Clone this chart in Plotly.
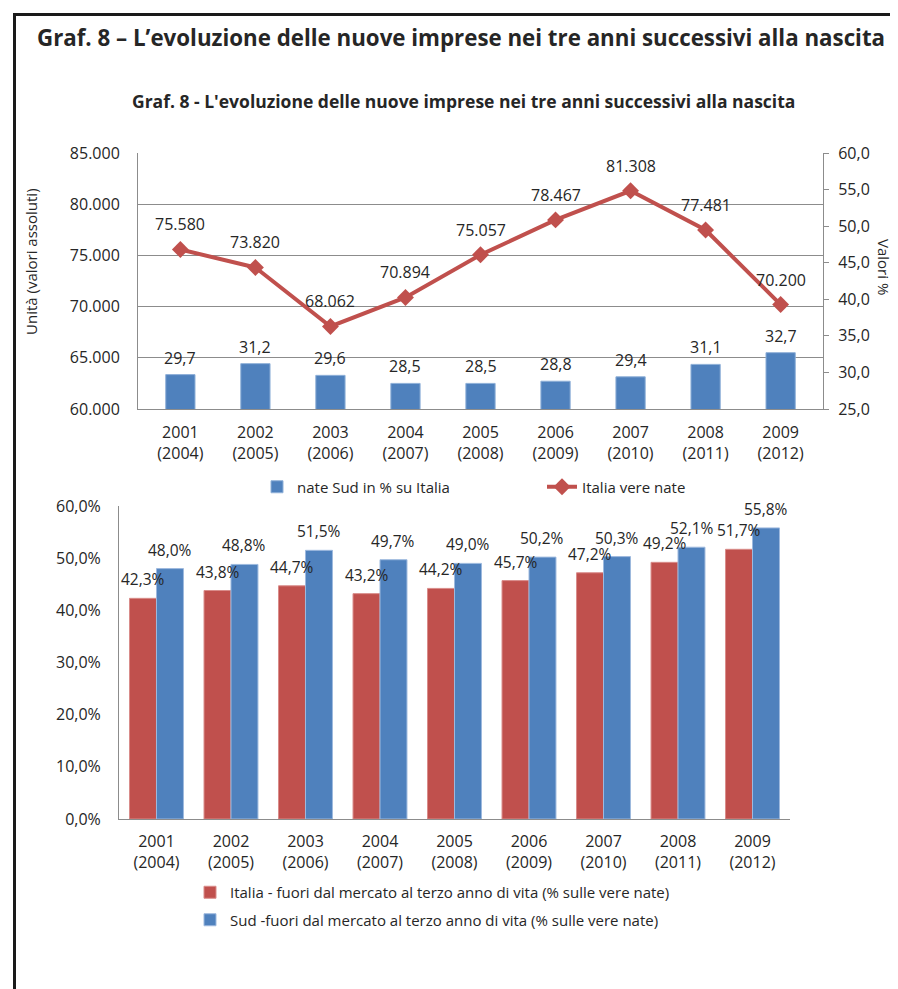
import plotly.graph_objects as go

# ---------------- data ----------------
categories = ["2001<br>(2004)", "2002<br>(2005)", "2003<br>(2006)", "2004<br>(2007)",
              "2005<br>(2008)", "2006<br>(2009)", "2007<br>(2010)", "2008<br>(2011)",
              "2009<br>(2012)"]
italia_vere_nate = [75580, 73820, 68062, 70894, 75057, 78467, 81308, 77481, 70200]
nate_sud_pct = [29.7, 31.2, 29.6, 28.5, 28.5, 28.8, 29.4, 31.1, 32.7]
italia_fuori_pct = [42.3, 43.8, 44.7, 43.2, 44.2, 45.7, 47.2, 49.2, 51.7]
sud_fuori_pct = [48.0, 48.8, 51.5, 49.7, 49.0, 50.2, 50.3, 52.1, 55.8]

name_bar_top = "nate Sud in % su Italia"
name_line_top = "Italia vere nate"
name_it = "Italia - fuori dal mercato al terzo anno di vita (% sulle vere nate)"
name_sud = "Sud -fuori dal mercato al terzo anno di vita (% sulle vere nate)"

# ---------------- style ----------------
OFF = 8                      # page body margin
W, H = 898 - OFF, 989 - OFF
FONT = "Open Sans"
TXT = "#262626"
BLUE = "#4F81BD"
RED = "#C0504D"
AXC = "#8c8c8c"
BARGAP = 0.276


def fx(p):
    return (p - OFF) / W


def fy(p):
    return 1 - (p - OFF) / H


def it_num(v, dec):
    s = f"{v:,.{dec}f}"
    return s.replace(",", "X").replace(".", ",").replace("X", ".")


fig = go.Figure()

# top chart
fig.add_trace(go.Bar(x=categories, y=nate_sud_pct, name=name_bar_top, xaxis="x", yaxis="y2",
                     marker=dict(color=BLUE, line=dict(color="#8fb0d8", width=1)), width=0.39,
                     legend="legend"))
fig.add_trace(go.Scatter(x=categories, y=italia_vere_nate, name=name_line_top, xaxis="x", yaxis="y",
                         mode="lines+markers", line=dict(color=RED, width=4),
                         marker=dict(symbol="diamond", size=13, color=RED), legend="legend"))

# bottom chart
fig.add_trace(go.Bar(x=categories, y=italia_fuori_pct, name=name_it, xaxis="x2", yaxis="y3",
                     marker=dict(color=RED, line=dict(color="#d98c8a", width=1)), legend="legend2",
                     legendgroup="a"))
fig.add_trace(go.Bar(x=categories, y=sud_fuori_pct, name=name_sud, xaxis="x2", yaxis="y3",
                     marker=dict(color=BLUE, line=dict(color="#9db9de", width=1)), legend="legend2",
                     legendgroup="b"))

lab_font = dict(size=16, color=TXT, family=FONT)
lab_font_b = dict(size=15.5, color=TXT, family=FONT)
annotations = []
for c, v in zip(categories, italia_vere_nate):
    annotations.append(dict(x=c, y=v, xref="x", yref="y", text=it_num(v, 0), showarrow=False,
                            yanchor="middle", yshift=25, font=lab_font))
for c, v in zip(categories, nate_sud_pct):
    annotations.append(dict(x=c, y=v, xref="x", yref="y2", text=it_num(v, 1), showarrow=False,
                            yanchor="middle", yshift=17, font=lab_font))
off = (1 - BARGAP) / 4
for i, (a, b) in enumerate(zip(italia_fuori_pct, sud_fuori_pct)):
    annotations.append(dict(x=i - off, y=a, xref="x2", yref="y3", text=it_num(a, 1) + "%",
                            showarrow=False, yanchor="middle", yshift=19, font=lab_font_b))
    annotations.append(dict(x=i + off, y=b, xref="x2", yref="y3", text=it_num(b, 1) + "%",
                            showarrow=False, yanchor="middle", yshift=19, font=lab_font_b))

annotations.append(dict(x=fx(35), y=fy(38), xref="paper", yref="paper", xanchor="left",
                        yanchor="middle", showarrow=False,
                        text="<b>Graf. 8 – L’evoluzione delle nuove imprese nei tre anni successivi alla nascita</b>",
                        font=dict(size=22.3, color=TXT, family=FONT)))
annotations.append(dict(x=fx(464), y=fy(101), xref="paper", yref="paper", xanchor="center",
                        yanchor="middle", showarrow=False,
                        text="<b>Graf. 8 - L'evoluzione delle nuove imprese nei tre anni successivi alla nascita</b>",
                        font=dict(size=17.5, color=TXT, family=FONT)))
annotations.append(dict(x=fx(31), y=fy(262), xref="paper", yref="paper", xanchor="center",
                        yanchor="middle", showarrow=False, textangle=-90,
                        text="Unità (valori assoluti)", font=dict(size=15, color=TXT, family=FONT)))
annotations.append(dict(x=fx(884), y=fy(267), xref="paper", yref="paper", xanchor="center",
                        yanchor="middle", showarrow=False, textangle=90,
                        text="Valori %", font=dict(size=15, color=TXT, family=FONT)))

tickfont = dict(size=16, color=TXT, family=FONT)

fig.update_layout(
    width=W, height=H,
    margin=dict(l=0, r=0, t=0, b=0, autoexpand=False),
    paper_bgcolor="white", plot_bgcolor="white",
    separators=",.",
    font=dict(family=FONT, color=TXT, size=15),
    bargap=BARGAP, bargroupgap=0, barmode="group",
    xaxis=dict(domain=[fx(138), fx(823)], anchor="y", type="category", automargin=False,
               showline=True, linecolor=AXC, linewidth=1, ticks="", tickfont=tickfont,
               ticklabelstandoff=9),
    yaxis=dict(domain=[fy(409), fy(153)], anchor="x", side="left", range=[60000, 85000],
               dtick=5000, tickformat=",d", showgrid=True, gridcolor=AXC, gridwidth=1,
               showline=True, linecolor=AXC, linewidth=1, ticks="", tickfont=tickfont,
               ticklabelstandoff=14, zeroline=False, automargin=False),
    yaxis2=dict(overlaying="y", side="right", anchor="x", range=[25, 60], dtick=5,
                tickformat=".1f", showgrid=False, showline=True, linecolor=AXC, linewidth=1,
                ticks="outside", ticklen=5, tickcolor=AXC, tickfont=tickfont,
                ticklabelstandoff=6, zeroline=False, automargin=False),
    xaxis2=dict(domain=[fx(119), fx(790)], anchor="y3", type="category", automargin=False,
                showline=True, linecolor=AXC, linewidth=1, ticks="", tickfont=tickfont,
                ticklabelstandoff=8),
    yaxis3=dict(domain=[fy(819), fy(506)], anchor="x2", range=[0, 60], dtick=10,
                tickformat=".1f", ticksuffix="%", showgrid=False, showline=True,
                linecolor=AXC, linewidth=1, ticks="", tickfont=tickfont,
                ticklabelstandoff=14, zeroline=False, automargin=False),
    legend=dict(orientation="h", x=fx(257), y=fy(487), xanchor="left", yanchor="middle",
                entrywidth=240, entrywidthmode="pixels", font=dict(size=15, color=TXT, family=FONT),
                bgcolor="rgba(0,0,0,0)", traceorder="normal"),
    legend2=dict(orientation="v", x=fx(190), y=fy(906), xanchor="left", yanchor="middle",
                 font=dict(size=15, color=TXT, family=FONT), bgcolor="rgba(0,0,0,0)",
                 tracegroupgap=5, traceorder="grouped"),
    annotations=annotations,
    shapes=[dict(type="rect", xref="paper", yref="paper", x0=fx(14.5), x1=1.05,
                 y0=-0.05, y1=fy(14.5), line=dict(color="#1a1a1a", width=3),
                 fillcolor="rgba(0,0,0,0)")],
    showlegend=True,
)

fig.write_html("out.html",
               post_script="document.documentElement.style.overflow='hidden';"
                           "document.body.style.overflow='hidden';")
